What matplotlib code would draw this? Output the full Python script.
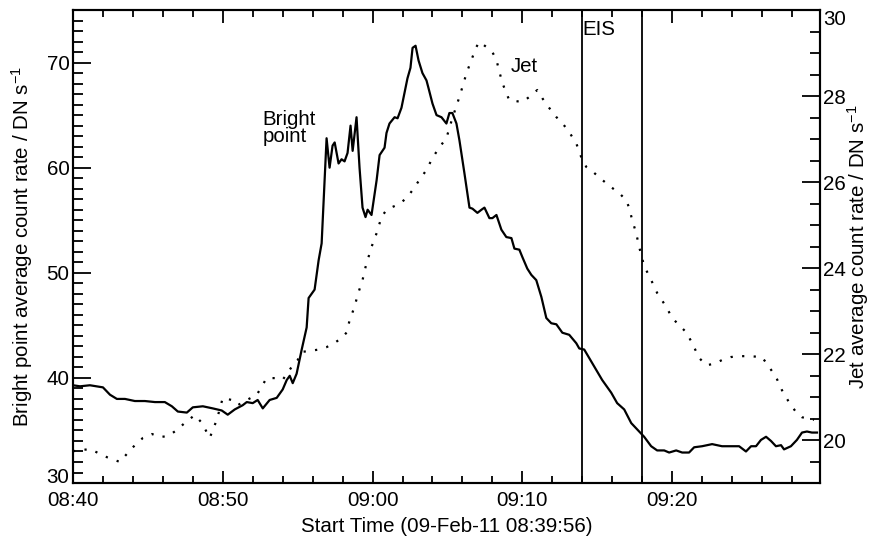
import matplotlib
matplotlib.use("Agg")
import matplotlib.pyplot as plt
from matplotlib.ticker import MultipleLocator

plt.rcParams['font.family'] = ['Liberation Sans', 'DejaVu Sans']
plt.rcParams['mathtext.fontset'] = 'custom'
plt.rcParams['mathtext.rm'] = 'Liberation Sans'
plt.rcParams['mathtext.it'] = 'Liberation Sans:italic'
plt.rcParams['mathtext.bf'] = 'Liberation Sans:bold'

# minutes after 08:40 for the bright point curve
bp_t = [0.0, 0.47, 1.13, 2.0, 2.47, 2.93, 3.47, 4.13, 4.8, 5.47, 6.13, 6.6, 7.0, 7.6, 8.0,
        8.67, 9.33, 9.93, 10.33, 10.8, 11.33, 11.6, 12.0, 12.33, 12.67, 13.13, 13.6, 14.0,
        14.27, 14.47, 14.67, 14.93, 15.27, 15.6, 15.73, 16.13, 16.4, 16.6, 16.93, 17.13,
        17.33, 17.47, 17.73, 17.93, 18.13, 18.33, 18.53, 18.67, 18.93, 19.13, 19.33, 19.53,
        19.67, 19.93, 20.27, 20.47, 20.8, 20.93, 21.13, 21.47, 21.67, 21.93, 22.13, 22.33,
        22.53, 22.67, 22.87, 23.07, 23.33, 23.6, 23.73, 24.0, 24.27, 24.6, 24.93, 25.13,
        25.33, 25.6, 25.8, 26.13, 26.47, 26.67, 27.0, 27.27, 27.47, 27.8, 28.0, 28.27, 28.6,
        28.93, 29.27, 29.47, 29.8, 30.0, 30.33, 30.6, 30.93, 31.27, 31.6, 31.93, 32.27,
        32.67, 33.13, 33.6, 33.8, 34.13, 34.67, 35.33, 35.93, 36.33, 36.8, 37.27, 37.8,
        38.13, 38.6, 39.0, 39.47, 39.8, 40.27, 40.67, 41.13, 41.47, 42.0, 42.67, 43.33,
        44.0, 44.47, 44.93, 45.27, 45.6, 45.93, 46.27, 46.6, 46.93, 47.27, 47.47, 47.93,
        48.33, 48.67, 49.0, 49.33, 49.67]
bp_rate = [39.3, 39.2, 39.3, 39.1, 38.4, 38.0, 38.0, 37.8, 37.8, 37.7, 37.7, 37.3, 36.8, 36.7,
           37.2, 37.3, 37.1, 36.9, 36.5, 37.0, 37.4, 37.7, 37.6, 37.9, 37.1, 37.9, 38.1, 38.9,
           39.8, 40.2, 39.5, 40.4, 42.7, 44.8, 47.6, 48.4, 51.2, 52.8, 62.8, 60.0, 62.1, 62.4,
           60.4, 60.8, 60.6, 61.4, 64.0, 61.6, 64.8, 60.0, 56.2, 55.3, 56.0, 55.5, 58.8, 61.2,
           61.9, 63.3, 64.2, 64.8, 64.7, 65.7, 67.1, 68.5, 69.5, 71.4, 71.6, 70.2, 69.0, 68.3,
           67.6, 66.1, 65.0, 64.8, 64.2, 65.2, 65.2, 64.2, 62.6, 59.5, 56.2, 56.1, 55.7, 56.0,
           56.2, 55.2, 55.2, 55.5, 54.1, 53.4, 53.3, 52.3, 52.2, 51.5, 50.4, 49.8, 49.3, 47.7,
           45.7, 45.2, 45.1, 44.3, 44.1, 43.3, 42.8, 42.7, 41.4, 39.8, 38.6, 37.6, 37.0, 35.7,
           34.9, 34.4, 33.5, 33.1, 33.1, 32.9, 33.1, 32.9, 32.9, 33.4, 33.5, 33.7, 33.5, 33.5,
           33.5, 33.0, 33.5, 33.5, 34.1, 34.4, 34.0, 33.5, 33.6, 33.2, 33.5, 34.1, 34.8, 34.9,
           34.8, 34.8]

# minutes after 08:40 for the jet curve
jet_t = [0.0, 1.13, 2.27, 3.13, 3.93, 4.67, 5.27, 5.8, 6.33, 6.93, 7.47, 8.13, 8.6, 9.13, 9.6,
         10.0, 10.6, 11.0, 11.6, 12.27, 12.93, 13.47, 14.0, 14.6, 15.0, 15.27, 15.8, 16.33,
         16.93, 17.47, 17.93, 18.27, 18.47, 18.8, 19.0, 19.33, 19.53, 19.93, 20.27, 20.6,
         20.93, 21.33, 21.8, 22.27, 22.67, 23.13, 23.6, 24.0, 24.47, 24.93, 25.33, 25.67,
         26.0, 26.27, 26.6, 26.93, 27.13, 27.6, 28.0, 28.27, 28.47, 28.67, 28.93, 29.13,
         29.6, 30.0, 30.47, 31.0, 31.33, 31.8, 32.27, 32.67, 33.13, 33.6, 33.93, 34.27, 34.8,
         35.33, 35.93, 36.47, 36.93, 37.13, 37.33, 37.6, 37.8, 38.13, 38.6, 39.0, 39.6, 40.0,
         40.47, 40.93, 41.33, 41.8, 42.27, 42.8, 43.33, 43.93, 44.47, 45.13, 46.0, 46.47,
         46.93, 47.33, 47.8, 48.27, 48.67, 49.13, 49.47]
jet_rate = [19.74, 19.79, 19.6, 19.49, 19.81, 20.05, 20.14, 20.07, 20.09, 20.23, 20.4, 20.58,
            20.4, 20.05, 20.47, 20.98, 20.93, 20.81, 20.93, 21.05, 21.44, 21.44, 21.4, 21.7,
            21.86, 22.05, 22.07, 22.1, 22.16, 22.26, 22.37, 22.5, 22.79, 23.1, 23.37, 23.72,
            24.02, 24.49, 24.81, 25.19, 25.35, 25.42, 25.49, 25.63, 25.81, 26.05, 26.28,
            26.56, 26.81, 27.02, 27.49, 27.84, 28.21, 28.53, 28.84, 29.14, 29.26, 29.14,
            29.02, 28.84, 28.56, 28.3, 28.07, 27.9, 27.88, 27.86, 27.98, 28.14, 27.95, 27.72,
            27.51, 27.37, 27.16, 26.9, 26.58, 26.35, 26.21, 26.05, 25.88, 25.74, 25.58, 25.4,
            25.12, 24.81, 24.49, 24.05, 23.72, 23.42, 23.1, 22.84, 22.67, 22.51, 22.26, 21.91,
            21.74, 21.77, 21.86, 21.93, 21.95, 21.95, 21.93, 21.7, 21.47, 21.16, 20.88, 20.65,
            20.53, 20.49, 20.47]

eis_window = [34.0, 38.0]
x_ticks = [0, 10, 20, 30, 40]
x_tick_labels = ['08:40', '08:50', '09:00', '09:10', '09:20']

fs = 14.8
fig = plt.figure(figsize=(8.7, 5.38), dpi=100)
ax = fig.add_axes([0.0839, 0.1022, 0.8586, 0.8792])
ax2 = ax.twinx()

ax.plot(bp_t, bp_rate, color='black', lw=1.6)
ax2.plot(jet_t, jet_rate, color='black', lw=1.6, linestyle=(0, (1, 4.2)),
         dash_capstyle='butt')
for t in eis_window:
    ax.axvline(t, color='black', lw=1.3)

ax.set_xlim(0, 49.87)
ax.set_ylim(30, 75)
ax2.set_ylim(19, 30)

ax.set_xticks(x_ticks)
ax.set_xticklabels(x_tick_labels)
ax.xaxis.set_minor_locator(MultipleLocator(2))
ax.yaxis.set_major_locator(MultipleLocator(10))
ax.yaxis.set_minor_locator(MultipleLocator(1))
ax2.yaxis.set_major_locator(MultipleLocator(2))
ax2.yaxis.set_minor_locator(MultipleLocator(0.5))

ax.tick_params(axis='x', which='both', direction='in', top=True, labelsize=fs, pad=5.5)
ax.tick_params(axis='x', which='major', length=9, width=1.3)
ax.tick_params(axis='x', which='minor', length=5, width=1.3)
ax.tick_params(axis='y', which='both', direction='in', right=False, labelsize=fs, pad=2.5)
ax.tick_params(axis='y', which='major', length=13, width=1.3)
ax.tick_params(axis='y', which='minor', length=7, width=1.3)
ax2.tick_params(axis='y', which='both', direction='in', labelsize=fs, pad=2)
ax2.tick_params(axis='y', which='major', length=13, width=1.3)
ax2.tick_params(axis='y', which='minor', length=7, width=1.3)

for a in (ax, ax2):
    for s in a.spines.values():
        s.set_linewidth(1.5)

ax.set_xlabel('Start Time (09-Feb-11 08:39:56)', fontsize=fs, labelpad=5)
ax.set_ylabel('Bright point average count rate / DN s$^{-1}$', fontsize=fs, labelpad=8)
ax2.set_ylabel('Jet average count rate / DN s$^{-1}$', fontsize=fs, labelpad=-0.5)

# keep the end labels clear of the corner
fig.canvas.draw()
for lab in ax.get_yticklabels():
    if lab.get_text() == '30':
        lab.set_verticalalignment('baseline')
for lab in ax2.get_yticklabels():
    if lab.get_text() == '30':
        lab.set_verticalalignment('top')

ax.text(12.67, 63.8, 'Bright\npoint', fontsize=fs, ha='left', va='center', linespacing=0.85)
ax.text(29.2, 69.6, 'Jet', fontsize=fs, ha='left', va='center')
ax.text(35.13, 73.1, 'EIS', fontsize=fs, ha='center', va='center')

fig.savefig('out.png', dpi=100)
